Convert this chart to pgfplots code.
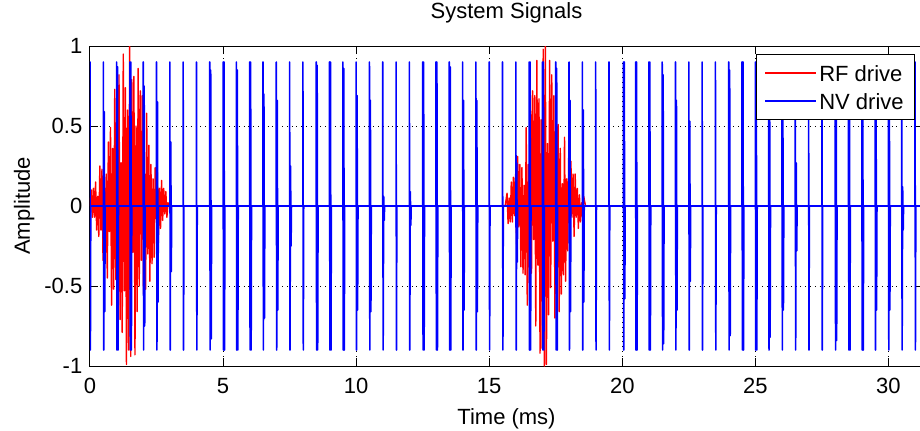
\documentclass[border=0pt]{standalone}
\usepackage{fontspec}
\setmainfont{Liberation Sans}
\usepackage{pgfplots}
\pgfplotsset{compat=1.18}
\definecolor{mred}{rgb}{1,0,0}
\definecolor{mblue}{rgb}{0,0,1}
\begin{document}
\fontsize{11}{13}\selectfont
\begin{tikzpicture}
\useasboundingbox (-45pt,-32pt) rectangle (415pt,183pt);
\begin{axis}[
  at={(0,0)}, anchor=south west,
  scale only axis, width=416.5pt, height=160pt,
  xmin=0, xmax=31.3, ymin=-1, ymax=1,
  xtick={0,5,10,15,20,25,30},
  ytick={-1,-0.5,0,0.5,1},
  yticklabels={-1,-0.5,0,0.5,1},
  tick align=inside, major tick length=4pt,
  tick style={black, line width=0.5pt},
  axis line style={black, line width=0.5pt},
  grid=major, major grid style={black, dotted, line width=0.5pt},
  /pgf/number format/assume math mode=true,
  font=\fontsize{11}{13}\selectfont,
  tick label style={font=\fontsize{11}{13}\selectfont},
  xticklabel style={yshift=-2.3pt},
  title={System Signals},
  title style={at={(axis description cs:0.5,1)}, anchor=base, yshift=8pt},
  xlabel={Time (ms)},
  xlabel style={at={(axis description cs:0.5,0)}, anchor=base, yshift=-29pt},
  ylabel={Amplitude},
  ylabel style={at={(axis description cs:-0.079,0.5)}, anchor=center},
  legend style={at={(axis description cs:0.990,0.975)}, anchor=north east,
    draw=black, line width=0.5pt, fill=white,
    inner xsep=4pt, inner ysep=4.25pt, row sep=4pt,
    nodes={inner xsep=1.25pt, inner ysep=1pt, text height=8pt, text depth=0pt},
    font=\fontsize{11}{13}\selectfont},
  legend cell align=left,
  legend image code/.code={\draw[#1,line width=0.6pt] (0pt,0pt) -- (25.5pt,0pt);},
]
\addplot[mred, line width=0.7pt, line join=round] coordinates {
(0,0)(0.05,0.10)(0.09,-0.07)(0.13,0.11)(0.17,-0.07)(0.21,0.15)(0.25,-0.15)(0.29,0.06)(0.33,-0.19)(0.37,0.25)(0.41,-0.15)(0.45,0.23)(0.49,-0.34)(0.53,0.22)(0.57,-0.36)(0.61,0.20)(0.65,-0.45)(0.69,0.40)(0.73,-0.16)(0.77,0.49)(0.81,-0.62)(0.85,0.36)(0.89,-0.52)(0.93,0.73)(0.97,-0.46)(1.01,0.72)(1.05,-0.37)(1.09,0.82)(1.13,-0.71)(1.17,0.27)(1.21,-0.79)(1.25,0.95)(1.29,-0.53)(1.33,0.74)(1.37,-0.99)(1.41,0.60)(1.45,-0.90)(1.49,1.00)(1.53,-0.94)(1.57,0.79)(1.61,-0.29)(1.65,0.81)(1.69,-0.93)(1.73,0.50)(1.77,-0.66)(1.81,0.86)(1.85,-0.50)(1.89,0.72)(1.93,-0.34)(1.97,0.69)(2.01,-0.55)(2.05,0.20)(2.09,-0.52)(2.13,0.58)(2.17,-0.30)(2.21,0.38)(2.25,-0.47)(2.29,0.26)(2.33,-0.36)(2.37,0.17)(2.41,-0.32)(2.45,0.24)(2.49,-0.08)(2.53,0.21)(2.57,-0.23)(2.61,0.11)(2.65,-0.14)(2.69,0.16)(2.73,-0.09)(2.77,0.11)(2.81,-0.05)(2.85,0.09)(2.89,-0.07)(2.93,0.02)(3.0,0)
(15.6,0)(15.67,0.08)(15.71,-0.11)(15.75,0.05)(15.79,-0.10)(15.83,0.15)(15.87,-0.10)(15.91,0.18)(15.95,-0.06)(15.99,0.20)(16.03,-0.24)(16.07,0.31)(16.11,-0.13)(16.15,0.26)(16.19,-0.38)(16.23,0.24)(16.27,-0.42)(16.31,0.13)(16.35,-0.43)(16.39,0.49)(16.43,-0.62)(16.47,0.26)(16.51,-0.48)(16.55,0.69)(16.59,-0.42)(16.63,0.72)(16.67,-0.21)(16.71,0.69)(16.75,-0.75)(16.79,0.91)(16.83,-0.37)(16.87,0.67)(16.91,-0.92)(16.95,0.54)(16.99,-0.89)(17.03,0.98)(17.07,-1.00)(17.11,1.00)(17.15,-0.99)(17.19,0.39)(17.23,-0.68)(17.27,0.91)(17.31,-0.51)(17.35,0.82)(17.39,-0.22)(17.43,0.69)(17.47,-0.70)(17.51,0.80)(17.55,-0.30)(17.59,0.51)(17.63,-0.66)(17.67,0.36)(17.71,-0.55)(17.75,0.14)(17.79,-0.43)(17.83,0.43)(17.87,-0.47)(17.91,0.17)(17.95,-0.28)(17.99,0.35)(18.03,-0.18)(18.07,0.28)(18.11,-0.07)(18.15,0.20)(18.19,-0.19)(18.23,0.20)(18.27,-0.07)(18.31,0.11)(18.35,-0.14)(18.39,0.07)(18.43,-0.10)(18.47,0.02)(18.51,-0.07)(18.55,0.06)(18.62,0)
};
\addlegendentry{RF drive}
\addplot[mblue, line width=0.8pt, line join=round] coordinates {
(0,0)(0,0.9)(0.015,-0.9)(0.03,0)
(0.5,0)(0.5,0.9)(0.515,-0.9)(0.535,0.59)(0.555,-0.66)(0.57,0)
(1,0)(1,0.9)(1.015,-0.9)(1.035,0.87)(1.055,-0.9)(1.07,0)
(1.5,0)(1.5,0.9)(1.515,-0.9)(1.535,0.9)(1.555,-0.9)(1.57,0)
(2,0)(2,0.9)(2.015,-0.9)(2.035,0.75)(2.055,-0.75)(2.07,0)
(2.5,0)(2.5,0.9)(2.515,-0.9)(2.535,0.65)(2.555,-0.6)(2.57,0)
(3,0)(3,0.9)(3.015,-0.9)(3.035,0.4)(3.055,-0.41)(3.07,0)
(3.5,0)(3.5,0.9)(3.515,-0.9)(3.53,0)
(4,0)(4,0.9)(4.015,-0.9)(4.03,0)
(4.5,0)(4.5,0.9)(4.515,-0.9)(4.535,0.85)(4.555,-0.83)(4.57,0)
(5,0)(5,0.9)(5.015,-0.9)(5.035,0.9)(5.055,-0.9)(5.07,0)
(5.5,0)(5.5,0.9)(5.515,-0.9)(5.535,0.85)(5.555,-0.9)(5.57,0)
(6,0)(6,0.9)(6.015,-0.9)(6.035,0.9)(6.055,-0.9)(6.07,0)
(6.5,0)(6.5,0.9)(6.515,-0.9)(6.535,0.7)(6.555,-0.7)(6.57,0)
(7,0)(7,0.9)(7.015,-0.9)(7.035,0.66)(7.055,-0.65)(7.07,0)
(7.5,0)(7.5,0.9)(7.515,-0.9)(7.535,0.25)(7.555,-0.25)(7.57,0)
(8,0)(8,0.9)(8.015,-0.9)(8.03,0)
(8.5,0)(8.5,0.9)(8.515,-0.9)(8.535,0.88)(8.555,-0.9)(8.57,0)
(9,0)(9,0.9)(9.015,-0.9)(9.035,0.9)(9.055,-0.9)(9.07,0)
(9.5,0)(9.5,0.9)(9.515,-0.9)(9.535,0.86)(9.555,-0.9)(9.57,0)
(10,0)(10,0.9)(10.015,-0.9)(10.035,0.69)(10.055,-0.65)(10.07,0)
(10.5,0)(10.5,0.9)(10.515,-0.9)(10.535,0.66)(10.555,-0.66)(10.57,0)
(11,0)(11,0.9)(11.015,-0.9)(11.035,0.06)(11.055,-0.09)(11.07,0)
(11.5,0)(11.5,0.9)(11.515,-0.9)(11.53,0)
(12,0)(12,0.9)(12.015,-0.9)(12.035,0.09)(12.055,-0.12)(12.07,0)
(12.5,0)(12.5,0.9)(12.515,-0.9)(12.535,0.9)(12.555,-0.9)(12.57,0)
(13,0)(13,0.9)(13.015,-0.9)(13.035,0.9)(13.055,-0.9)(13.07,0)
(13.5,0)(13.5,0.9)(13.515,-0.9)(13.535,0.87)(13.555,-0.9)(13.57,0)
(14,0)(14,0.9)(14.015,-0.9)(14.035,0.66)(14.055,-0.65)(14.07,0)
(14.5,0)(14.5,0.9)(14.515,-0.9)(14.535,0.66)(14.555,-0.66)(14.57,0)
(15,0)(15,0.9)(15.015,-0.9)(15.03,0)
(15.5,0)(15.5,0.9)(15.515,-0.9)(15.53,0)
(16,0)(16,0.9)(16.015,-0.9)(16.035,0.27)(16.055,-0.35)(16.07,0)
(16.5,0)(16.5,0.9)(16.515,-0.9)(16.535,0.9)(16.555,-0.9)(16.57,0)
(17,0)(17,0.9)(17.015,-0.9)(17.035,0.9)(17.055,-0.9)(17.07,0)
(17.5,0)(17.5,0.9)(17.515,-0.9)(17.535,0.86)(17.555,-0.9)(17.57,0)
(18,0)(18,0.9)(18.015,-0.9)(18.035,0.66)(18.055,-0.66)(18.07,0)
(18.5,0)(18.5,0.9)(18.515,-0.9)(18.535,0.6)(18.555,-0.6)(18.57,0)
(19,0)(19,0.9)(19.015,-0.9)(19.03,0)
(19.5,0)(19.5,0.9)(19.515,-0.9)(19.53,0)
(20.04,0)(20.04,0.9)(20.055,-0.9)(20.075,0.9)(20.095,-0.58)(20.11,0)
(20.5,0)(20.5,0.9)(20.515,-0.9)(20.535,0.9)(20.555,-0.9)(20.57,0)
(21,0)(21,0.9)(21.015,-0.9)(21.035,0.9)(21.055,-0.9)(21.07,0)
(21.5,0)(21.5,0.9)(21.515,-0.9)(21.535,0.82)(21.555,-0.86)(21.57,0)
(22,0)(22,0.9)(22.015,-0.9)(22.035,0.66)(22.055,-0.65)(22.07,0)
(22.5,0)(22.5,0.9)(22.515,-0.9)(22.535,0.53)(22.555,-0.47)(22.57,0)
(23,0)(23,0.9)(23.015,-0.9)(23.03,0)
(23.5,0)(23.5,0.9)(23.515,-0.9)(23.53,0)
(24,0)(24,0.9)(24.015,-0.9)(24.035,0.85)(24.055,-0.81)(24.07,0)
(24.5,0)(24.5,0.9)(24.515,-0.9)(24.535,0.9)(24.555,-0.9)(24.57,0)
(25,0)(25,0.9)(25.015,-0.9)(25.035,0.9)(25.055,-0.9)(25.07,0)
(25.5,0)(25.5,0.9)(25.515,-0.9)(25.535,0.9)(25.555,-0.82)(25.57,0)
(26,0)(26,0.9)(26.015,-0.9)(26.035,0.56)(26.055,-0.65)(26.07,0)
(26.5,0)(26.5,0.9)(26.515,-0.9)(26.535,0.27)(26.555,-0.28)(26.57,0)
(27,0)(27,0.9)(27.015,-0.9)(27.03,0)
(27.5,0)(27.5,0.9)(27.515,-0.9)(27.53,0)
(28,0)(28,0.9)(28.015,-0.9)(28.035,0.9)(28.055,-0.84)(28.07,0)
(28.5,0)(28.5,0.9)(28.515,-0.9)(28.535,0.9)(28.555,-0.9)(28.57,0)
(29,0)(29,0.9)(29.015,-0.9)(29.035,0.9)(29.055,-0.9)(29.07,0)
(29.5,0)(29.5,0.9)(29.515,-0.9)(29.535,0.7)(29.555,-0.65)(29.57,0)
(30,0)(30,0.9)(30.015,-0.9)(30.035,0.66)(30.055,-0.65)(30.07,0)
(30.5,0)(30.5,0.9)(30.515,-0.9)(30.535,0.12)(30.555,-0.15)(30.57,0)
(31,0)(31,0.9)(31.015,-0.9)(31.03,0)
(31.3,0)
};
\addlegendentry{NV drive}
\end{axis}
\end{tikzpicture}
\end{document}
